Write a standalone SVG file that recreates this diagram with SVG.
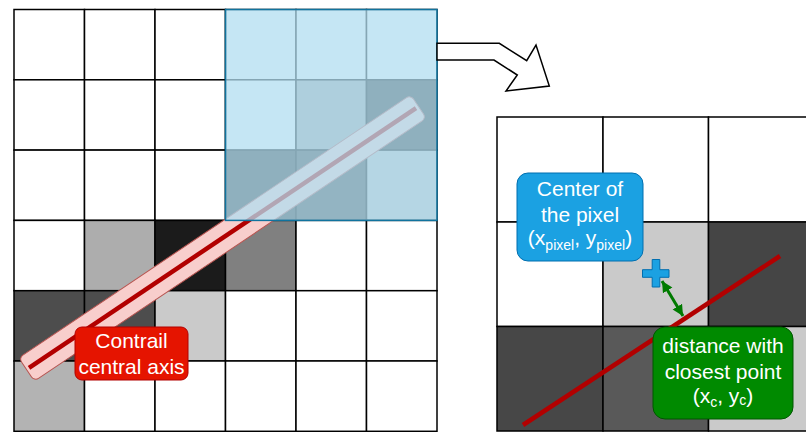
<svg xmlns="http://www.w3.org/2000/svg" width="806" height="432" viewBox="0 0 806 432">
  <style>
    .cell { stroke: #000; stroke-width: 1.5; }
    .lbl { font-family: "Liberation Sans", Arial, sans-serif; font-size: 21px; fill: #fff; text-anchor: middle; }
    .sub { font-size: 14px; }
  </style>
  <defs>
    <marker id="gh" markerUnits="userSpaceOnUse" markerWidth="12" markerHeight="12" refX="11" refY="5.5" orient="auto-start-reverse">
      <path d="M0,0 L11,5.5 L0,11 Z" fill="#007a00"/>
    </marker>
  </defs>
  <rect width="806" height="432" fill="#fff"/>

  <g id="left-grid">
    <rect class="cell" x="14" y="9.5" width="70.5" height="70.3" fill="#fff"/>
    <rect class="cell" x="84.5" y="9.5" width="70.5" height="70.3" fill="#fff"/>
    <rect class="cell" x="155" y="9.5" width="70.5" height="70.3" fill="#fff"/>
    <rect class="cell" x="225.5" y="9.5" width="70.5" height="70.3" fill="#fff"/>
    <rect class="cell" x="296" y="9.5" width="70.5" height="70.3" fill="#fff"/>
    <rect class="cell" x="366.5" y="9.5" width="70.5" height="70.3" fill="#fff"/>

    <rect class="cell" x="14" y="79.8" width="70.5" height="70.3" fill="#fff"/>
    <rect class="cell" x="84.5" y="79.8" width="70.5" height="70.3" fill="#fff"/>
    <rect class="cell" x="155" y="79.8" width="70.5" height="70.3" fill="#fff"/>
    <rect class="cell" x="225.5" y="79.8" width="70.5" height="70.3" fill="#fff"/>
    <rect class="cell" x="296" y="79.8" width="70.5" height="70.3" fill="#a5a5a5"/>
    <rect class="cell" x="366.5" y="79.8" width="70.5" height="70.3" fill="#282828"/>

    <rect class="cell" x="14" y="150.1" width="70.5" height="70.3" fill="#fff"/>
    <rect class="cell" x="84.5" y="150.1" width="70.5" height="70.3" fill="#fff"/>
    <rect class="cell" x="155" y="150.1" width="70.5" height="70.3" fill="#fff"/>
    <rect class="cell" x="225.5" y="150.1" width="70.5" height="70.3" fill="#282828"/>
    <rect class="cell" x="296" y="150.1" width="70.5" height="70.3" fill="#393939"/>
    <rect class="cell" x="366.5" y="150.1" width="70.5" height="70.3" fill="#c0c0c0"/>

    <rect class="cell" x="14" y="220.4" width="70.5" height="70.3" fill="#fff"/>
    <rect class="cell" x="84.5" y="220.4" width="70.5" height="70.3" fill="#adadad"/>
    <rect class="cell" x="155" y="220.4" width="70.5" height="70.3" fill="#1b1b1b"/>
    <rect class="cell" x="225.5" y="220.4" width="70.5" height="70.3" fill="#808080"/>
    <rect class="cell" x="296" y="220.4" width="70.5" height="70.3" fill="#fff"/>
    <rect class="cell" x="366.5" y="220.4" width="70.5" height="70.3" fill="#fff"/>

    <rect class="cell" x="14" y="290.7" width="70.5" height="70.3" fill="#4d4d4d"/>
    <rect class="cell" x="84.5" y="290.7" width="70.5" height="70.3" fill="#4d4d4d"/>
    <rect class="cell" x="155" y="290.7" width="70.5" height="70.3" fill="#cacaca"/>
    <rect class="cell" x="225.5" y="290.7" width="70.5" height="70.3" fill="#fff"/>
    <rect class="cell" x="296" y="290.7" width="70.5" height="70.3" fill="#fff"/>
    <rect class="cell" x="366.5" y="290.7" width="70.5" height="70.3" fill="#fff"/>

    <rect class="cell" x="14" y="361" width="70.5" height="70.3" fill="#b3b3b3"/>
    <rect class="cell" x="84.5" y="361" width="70.5" height="70.3" fill="#fff"/>
    <rect class="cell" x="155" y="361" width="70.5" height="70.3" fill="#fff"/>
    <rect class="cell" x="225.5" y="361" width="70.5" height="70.3" fill="#fff"/>
    <rect class="cell" x="296" y="361" width="70.5" height="70.3" fill="#fff"/>
    <rect class="cell" x="366.5" y="361" width="70.5" height="70.3" fill="#fff"/>
  </g>

  <g id="contrail" transform="translate(222.5,238) rotate(-33.86)">
    <rect x="-236" y="-14" width="472" height="28" rx="5" fill="#f8cecc" stroke="#b85450" stroke-width="1"/>
    <line x1="-233" y1="0" x2="233" y2="0" stroke="#b20000" stroke-width="4.5"/>
  </g>

  <g id="zoom-region">
    <rect x="225.5" y="9.5" width="211.5" height="210.9" fill="#b1ddf0" fill-opacity="0.75" stroke="#10739e" stroke-width="1.5"/>
  </g>

  <g id="contrail-label">
    <rect x="75" y="327" width="113" height="53" rx="7" fill="#e51400" stroke="#b20000" stroke-width="1"/>
    <text class="lbl" x="131.5" y="348">Contrail</text>
    <text class="lbl" x="131.5" y="374">central axis</text>
  </g>

  <g id="right-grid">
    <rect class="cell" x="497" y="117" width="106" height="105" fill="#fff"/>
    <rect class="cell" x="603" y="117" width="105.5" height="105" fill="#fff"/>
    <rect class="cell" x="708.5" y="117" width="105.5" height="105" fill="#fff"/>
    <rect class="cell" x="497" y="222" width="106" height="104.5" fill="#fff"/>
    <rect class="cell" x="603" y="222" width="105.5" height="104.5" fill="#cacaca"/>
    <rect class="cell" x="708.5" y="222" width="105.5" height="104.5" fill="#454545"/>
    <rect class="cell" x="497" y="326.5" width="106" height="104.5" fill="#474747"/>
    <rect class="cell" x="603" y="326.5" width="105.5" height="104.5" fill="#595959"/>
    <rect class="cell" x="708.5" y="326.5" width="105.5" height="104.5" fill="#cacaca"/>
  </g>

  <g id="axis-line">
    <line x1="523" y1="425" x2="780" y2="256" stroke="#b20000" stroke-width="4.5"/>
  </g>

  <g id="pixel-center">
    <path d="M652.2,259.5 H659.8 V269.7 H669 V277.3 H659.8 V287 H652.2 V277.3 H642.5 V269.7 H652.2 Z" fill="#1ba1e2" stroke="#006eaf" stroke-width="1"/>
  </g>

  <g id="connectors">
    <polygon points="437,43.3 499.3,43.3 526.7,60.7 536,45 549.3,86 506,91 517.3,75 494,60 437,60" fill="#fff" stroke="#000" stroke-width="1.5" stroke-linejoin="miter"/>
    <line x1="662" y1="281" x2="683" y2="316" stroke="#007a00" stroke-width="3" marker-start="url(#gh)" marker-end="url(#gh)"/>
  </g>

  <g id="center-label">
    <rect x="517" y="173" width="126" height="88" rx="11" fill="#1ba1e2" stroke="#006eaf" stroke-width="1"/>
    <text class="lbl" x="580" y="196">Center of</text>
    <text class="lbl" x="580" y="222">the pixel</text>
    <text class="lbl" x="580" y="245">(x<tspan class="sub" dy="5">pixel</tspan><tspan dy="-5">, y</tspan><tspan class="sub" dy="5">pixel</tspan><tspan dy="-5">)</tspan></text>
  </g>

  <g id="distance-label">
    <rect x="653" y="327" width="140" height="92" rx="12" fill="#008a00" stroke="#005700" stroke-width="1"/>
    <text class="lbl" x="723" y="353">distance with</text>
    <text class="lbl" x="723" y="379">closest point</text>
    <text class="lbl" x="723" y="403">(x<tspan class="sub" dy="4">c</tspan><tspan dy="-4">, y</tspan><tspan class="sub" dy="2">c</tspan><tspan dy="-2">)</tspan></text>
  </g>
</svg>
